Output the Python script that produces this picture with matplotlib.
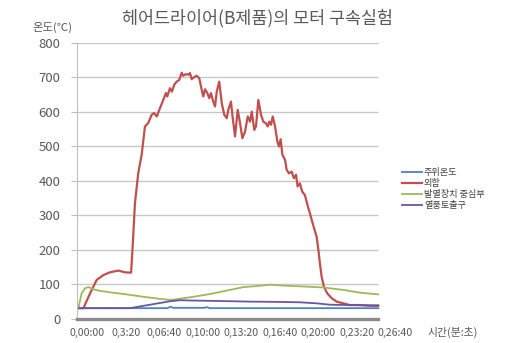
import matplotlib.pyplot as plt
from matplotlib.transforms import ScaledTranslation

plt.rcParams['font.family'] = ['Noto Sans CJK KR', 'DejaVu Sans']

# 측정 시간(초) / 온도(℃)
ambient_t = [0, 470, 485, 500, 660, 675, 690, 1565]
ambient = [30, 30, 34, 31, 31, 33, 30, 30]

case_t = [0, 33, 68, 102, 137, 171, 215, 249, 281, 289, 301, 318, 336, 353, 370, 388, 400, 414,
          431, 448, 462, 469, 483, 493, 505, 518, 531, 544, 552, 566, 578, 587, 596, 608, 622,
          635, 648, 656, 665, 677, 687, 696, 708, 717, 726, 739, 752, 765, 778, 786, 800, 807,
          821, 835, 847, 859, 873, 887, 899, 908, 921, 930, 942, 956, 968, 980, 991, 999, 1008,
          1017, 1029, 1041, 1049, 1058, 1067, 1081, 1089, 1101, 1115, 1127, 1138, 1146, 1158,
          1170, 1184, 1202, 1210, 1227, 1245, 1254, 1262, 1271, 1283, 1300, 1323, 1349, 1383,
          1418, 1470, 1522, 1565]
case = [30, 30, 73, 112, 126, 134, 139, 134, 133, 208, 334, 421, 475, 557, 567, 591, 596, 586,
        610, 634, 654, 644, 668, 658, 678, 687, 692, 713, 704, 709, 707, 712, 694, 700, 704,
        697, 663, 644, 665, 654, 639, 654, 629, 615, 658, 687, 625, 591, 581, 605, 629, 591,
        528, 605, 567, 523, 542, 586, 571, 600, 547, 557, 634, 591, 571, 567, 557, 571, 562,
        586, 557, 513, 499, 520, 475, 460, 432, 421, 426, 407, 417, 383, 392,
        368, 358, 320, 305, 271, 237, 199, 160, 121, 92, 73, 59, 49, 44,
        39, 39, 37, 37]

heater_t = [0, 7, 24, 42, 59, 85, 119, 171, 258, 344, 431, 483, 518, 604, 691, 778, 864, 951,
            1003, 1089, 1176, 1280, 1383, 1470, 1565]
heater = [30, 30, 73, 88, 91, 85, 80, 76, 70, 63, 57, 54, 56, 63, 71, 81, 91, 95,
          98, 95, 93, 90, 83, 75, 70]

outlet_t = [0, 275, 379, 483, 535, 613, 717, 899, 1070, 1158, 1245, 1314, 1418, 1565]
outlet = [30, 30, 40, 50, 53, 52, 51, 49, 48, 47, 44, 40, 39, 38]

labels = ['주위온도', '외함', '발열장치 중심부', '열풍토출구']
colors = ['#4F81BD', '#C0504D', '#9BBB59', '#6B55A3']

x_ticks = [0, 200, 400, 600, 800, 1000, 1200, 1400, 1600]
x_labels = ['0,00:00', '0,3:20', '0,06:40', '0,10:00', '0,13:20',
            '0,16:40', '0,20:00', '0,23:20', '0,26:40']
y_ticks = [0, 100, 200, 300, 400, 500, 600, 700, 800]

fig = plt.figure(figsize=(5.26, 3.43), dpi=100)
ax = fig.add_axes([0.1464, 0.0714, 0.5928, 0.8041])

t_end = ambient_t[-1]
ax.hlines(y_ticks[1:], 0, t_end, colors='#C8C8C8', linewidth=1, zorder=0)

series = [(ambient_t, ambient), (case_t, case), (heater_t, heater), (outlet_t, outlet)]
for (t, v), lab, c in zip(series, labels, colors):
    lw = 1.6 if lab == '외함' else 1.3
    ax.plot(t, v, color=c, linewidth=lw, label=lab, solid_joinstyle='round')

ax.set_xlim(0, 1620)
ax.set_ylim(0, 800)

for s in ['top', 'right']:
    ax.spines[s].set_visible(False)
ax.spines['left'].set_color('#BFBFBF')
ax.spines['left'].set_linewidth(0.8)
ax.spines['bottom'].set_bounds(0, t_end)
ax.spines['bottom'].set_color('#8C8C8C')
ax.spines['bottom'].set_linewidth(2.4)

ax.set_yticks(y_ticks)
ax.set_yticklabels([str(v) for v in y_ticks], fontsize=9.5, color='#595959')
ax.tick_params(axis='y', length=4, color='#BFBFBF', pad=8)

ax.set_xticks(x_ticks)
ax.set_xticklabels(x_labels, fontsize=7.6, color='#595959',
                   family=['Liberation Sans Narrow', 'Noto Sans CJK KR'])
ax.tick_params(axis='x', length=0, pad=7)
shift = ScaledTranslation(10.5 / 100, 0, fig.dpi_scale_trans)
for lbl in ax.get_xticklabels():
    lbl.set_transform(lbl.get_transform() + shift)

fig.text(0.49, 0.947, '헤어드라이어(B제품)의 모터 구속실험', ha='center', va='center',
         fontsize=12.5, color='#595959')
fig.text(72 / 526, 1 - 27 / 343, '온도(℃)', ha='right', va='center',
         fontsize=8.2, color='#595959')
fig.text(428 / 526, 1 - 332 / 343, '시간(분:초)', ha='left', va='center',
         fontsize=7.8, color='#595959')

leg = fig.legend(loc='center left', bbox_to_anchor=(402 / 526, 1 - 189 / 343),
                 frameon=False, fontsize=6.6, handlelength=2.2, handletextpad=0.2,
                 labelspacing=0.2, borderpad=0, borderaxespad=0)
for txt in leg.get_texts():
    txt.set_color('#404040')

fig.savefig('out.png', dpi=100, facecolor='white')
